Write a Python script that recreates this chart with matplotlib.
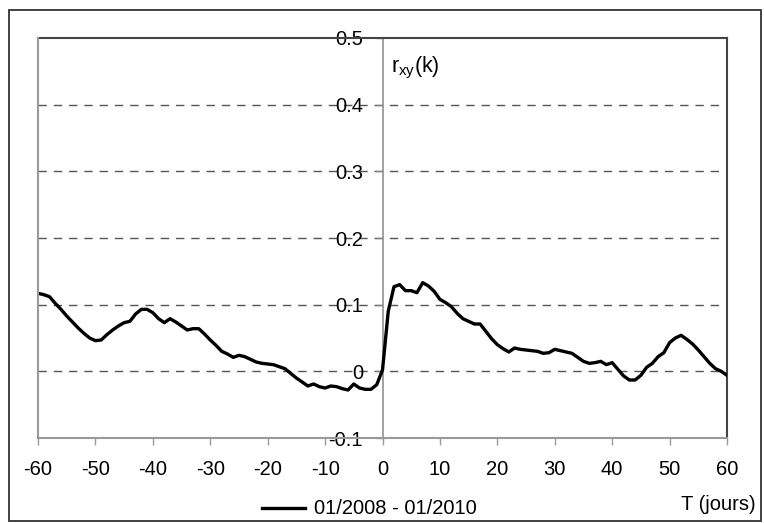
import matplotlib
matplotlib.use("Agg")
import matplotlib.pyplot as plt
from matplotlib.lines import Line2D
from matplotlib.patches import Rectangle

plt.rcParams['font.family'] = ['Liberation Sans', 'DejaVu Sans']

# Data: lag T (days) and cross-correlation r_xy(k)
lags = list(range(-60, 61))
rxy = [
    0.117, 0.115, 0.112, 0.102, 0.093, 0.083, 0.074, 0.065, 0.057, 0.050,   # -60..-51
    0.046, 0.047, 0.055, 0.062, 0.068, 0.073, 0.075, 0.086, 0.093, 0.093,   # -50..-41
    0.088, 0.079, 0.073, 0.079, 0.074, 0.068, 0.062, 0.064, 0.064, 0.056,   # -40..-31
    0.047, 0.039, 0.030, 0.026, 0.021, 0.024, 0.022, 0.018, 0.014, 0.012,   # -30..-21
    0.011, 0.010, 0.007, 0.004, -0.003, -0.010, -0.016, -0.022, -0.019, -0.023,  # -20..-11
    -0.025, -0.022, -0.023, -0.026, -0.028, -0.019, -0.025, -0.027, -0.027, -0.020,  # -10..-1
    0.002,                                                                   # 0
    0.090, 0.127, 0.130, 0.121, 0.121, 0.118, 0.133, 0.128, 0.120, 0.108,   # 1..10
    0.103, 0.097, 0.087, 0.079, 0.075, 0.071, 0.071, 0.060, 0.049, 0.040,   # 11..20
    0.034, 0.029, 0.035, 0.033, 0.032, 0.031, 0.030, 0.027, 0.028, 0.033,   # 21..30
    0.031, 0.029, 0.027, 0.021, 0.015, 0.012, 0.013, 0.015, 0.010, 0.013,   # 31..40
    0.003, -0.007, -0.013, -0.013, -0.006, 0.006, 0.012, 0.022, 0.028, 0.043,  # 41..50
    0.050, 0.054, 0.048, 0.041, 0.032, 0.022, 0.012, 0.004, 0.000, -0.006,  # 51..60
]
series_label = "01/2008 - 01/2010"
x_ticks = [-60, -50, -40, -30, -20, -10, 0, 10, 20, 30, 40, 50, 60]
x_tick_labels = ['-60', '-50', '-40', '-30', '-20', '-10', '0', '10', '20', '30', '40', '50', '60']
y_ticks = [-0.1, 0.0, 0.1, 0.2, 0.3, 0.4, 0.5]
y_tick_labels = ['-0.1', '0', '0.1', '0.2', '0.3', '0.4', '0.5']
grid_levels = [0.0, 0.1, 0.2, 0.3, 0.4]

W, H = 764, 523
fig = plt.figure(figsize=(W / 100, H / 100), dpi=100)
ax = fig.add_axes([38 / W, 1 - 438 / H, (727 - 38) / W, 400 / H])

# dashed gridlines
for g in grid_levels:
    ax.axhline(g, color='#555555', lw=1.0, dashes=(6, 5), zorder=1)

line, = ax.plot(lags, rxy, color='black', lw=2.4, zorder=3, label=series_label)

ax.set_xlim(-60, 60)
ax.set_ylim(-0.1, 0.5)

# y axis through x = 0
ax.spines['left'].set_position(('data', 0))
ax.spines['left'].set_color('#888888')
ax.spines['left'].set_linewidth(1.1)
ax.spines['bottom'].set_color('#999999')
ax.spines['bottom'].set_linewidth(1.5)
ax.spines['top'].set_color('#444444')
ax.spines['top'].set_linewidth(1.5)
ax.spines['right'].set_color('#444444')
ax.spines['right'].set_linewidth(1.5)
# left frame edge
ax.add_line(Line2D([0, 0], [0, 1], transform=ax.transAxes, color='#999999',
                   lw=1.5, clip_on=False, zorder=4))

ax.set_xticks(x_ticks)
ax.set_xticklabels(x_tick_labels)
ax.set_yticks(y_ticks)
ax.set_yticklabels(y_tick_labels)
ax.tick_params(axis='x', direction='out', length=5, width=1, color='#999999',
               labelsize=14.5, pad=11)
ax.tick_params(axis='y', direction='out', length=5, width=1, color='#888888',
               labelsize=14.5, pad=9)
for lbl in ax.get_yticklabels():
    lbl.set_zorder(2)

ax.text(1.5, 0.455, r'$\mathregular{r_{xy}(k)}$', fontsize=15.5, ha='left', va='center')

# legend-like entry and axis caption at bottom
fig.add_artist(Line2D([262 / W, 305 / W], [1 - 508 / H, 1 - 508 / H],
                      transform=fig.transFigure, color='black', lw=2.4))
fig.text(314 / W, 1 - 509 / H, series_label, fontsize=14.5, ha='left', va='center')
fig.text(756 / W, 1 - 505 / H, 'T (jours)', fontsize=14.5, ha='right', va='center')

# outer frame
fig.add_artist(Rectangle((9 / W, 1 - 521 / H), (761 - 9) / W, (521 - 10) / H,
                         transform=fig.transFigure, fill=False,
                         edgecolor='#333333', lw=1.3))

fig.savefig('out.png', dpi=100)
